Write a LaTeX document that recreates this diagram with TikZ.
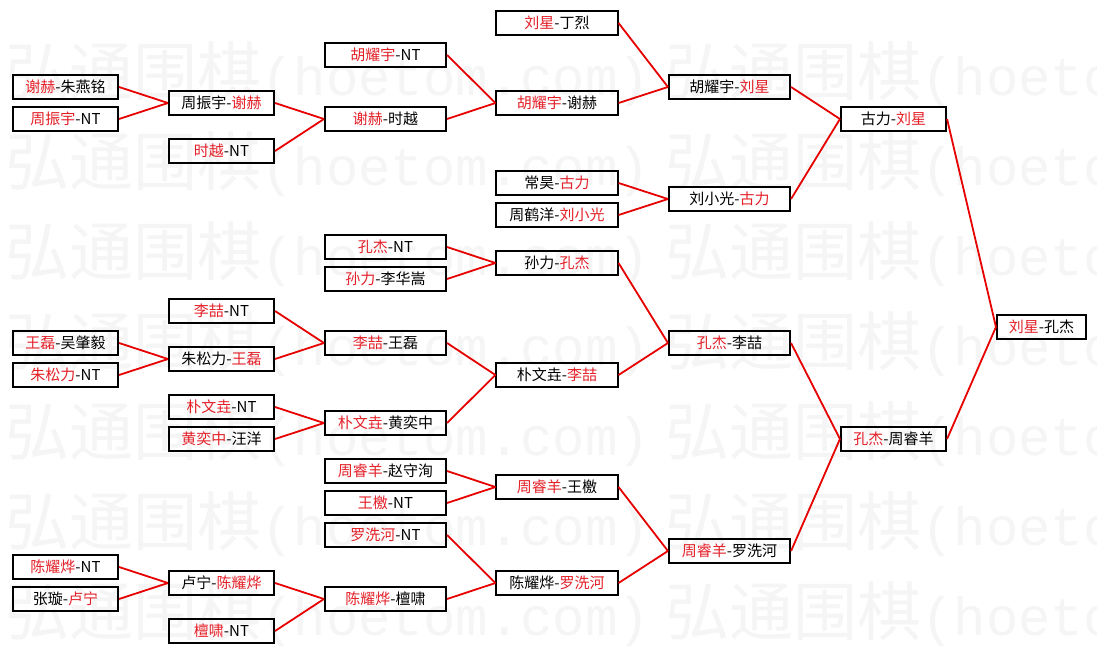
\documentclass[tikz,border=0pt]{standalone}
\usepackage{fontspec}
\setmainfont{Noto Sans CJK SC}
\newfontfamily\wmcjk{Noto Sans CJK SC}
\newfontfamily\wmlat{Liberation Mono}
\definecolor{wred}{RGB}{228,32,40}
\definecolor{lred}{RGB}{230,0,0}
\newcommand\wn[1]{\textcolor{wred}{#1}}
\begin{document}
\begin{tikzpicture}[x=1pt,y=-1pt,
  bx/.style={draw=black, line width=1.6pt, rectangle, inner sep=0pt, minimum height=24.5pt, font=\fontsize{15}{16}\selectfont, text=black},
  wa/.style={bx, minimum width=105.5pt},
  wb/.style={bx, minimum width=121.5pt},
  wc/.style={bx, minimum width=89.5pt},
  lk/.style={draw=lred, line width=1.8pt},
  wm/.style={text=black!4, anchor=base west, inner sep=0pt}]
\fill[white] (0,0) rectangle (1097,653);
\useasboundingbox (0,0) rectangle (1097,653);
\clip (0,0) rectangle (1097,653);
% watermark
\foreach \k in {0,...,6}{
  \node[wm] (wma\k) at (5,{95+90*\k}) {\fontsize{64}{64}\selectfont\wmcjk 弘通围棋\fontsize{54}{54}\selectfont\wmlat (hoetom.com)};
  \node[wm] (wmb\k) at (665,{95+90*\k}) {\fontsize{64}{64}\selectfont\wmcjk 弘通围棋\fontsize{54}{54}\selectfont\wmlat (hoetom.com)};
}
% column 0
\node[wa] (a1) at (65.5,87) {\wn{谢赫}-朱燕铭};
\node[wa] (a2) at (65.5,119) {\wn{周振宇}-NT};
\node[wa] (a3) at (65.5,343) {\wn{王磊}-吴肇毅};
\node[wa] (a4) at (65.5,375) {\wn{朱松力}-NT};
\node[wa] (a5) at (65.5,567) {\wn{陈耀烨}-NT};
\node[wa] (a6) at (65.5,599) {张璇-\wn{卢宁}};
% column 1
\node[wa] (b1) at (221.5,103) {周振宇-\wn{谢赫}};
\node[wa] (b2) at (221.5,151) {\wn{时越}-NT};
\node[wa] (b3) at (221.5,311) {\wn{李喆}-NT};
\node[wa] (b4) at (221.5,359) {朱松力-\wn{王磊}};
\node[wa] (b5) at (221.5,407) {\wn{朴文垚}-NT};
\node[wa] (b6) at (221.5,439) {\wn{黄奕中}-汪洋};
\node[wa] (b7) at (221.5,583) {卢宁-\wn{陈耀烨}};
\node[wa] (b8) at (221.5,631) {\wn{檀啸}-NT};
% column 2
\node[wb] (c1) at (385.5,55) {\wn{胡耀宇}-NT};
\node[wb] (c2) at (385.5,119) {\wn{谢赫}-时越};
\node[wb] (c3) at (385.5,247) {\wn{孔杰}-NT};
\node[wb] (c4) at (385.5,279) {\wn{孙力}-李华嵩};
\node[wb] (c5) at (385.5,343) {\wn{李喆}-王磊};
\node[wb] (c6) at (385.5,423) {\wn{朴文垚}-黄奕中};
\node[wb] (c7) at (385.5,471) {\wn{周睿羊}-赵守洵};
\node[wb] (c8) at (385.5,503) {\wn{王檄}-NT};
\node[wb] (c9) at (385.5,535) {\wn{罗洗河}-NT};
\node[wb] (c10) at (385.5,599) {\wn{陈耀烨}-檀啸};
% column 3
\node[wb] (d1) at (557,23) {\wn{刘星}-丁烈};
\node[wb] (d2) at (557,103) {\wn{胡耀宇}-谢赫};
\node[wb] (d3) at (557,183) {常昊-\wn{古力}};
\node[wb] (d4) at (557,215) {周鹤洋-\wn{刘小光}};
\node[wb] (d5) at (557,263) {孙力-\wn{孔杰}};
\node[wb] (d6) at (557,375) {朴文垚-\wn{李喆}};
\node[wb] (d7) at (557,487) {\wn{周睿羊}-王檄};
\node[wb] (d8) at (557,583) {陈耀烨-\wn{罗洗河}};
% column 4
\node[wb] (e1) at (729.5,87) {胡耀宇-\wn{刘星}};
\node[wb] (e2) at (729.5,199) {刘小光-\wn{古力}};
\node[wb] (e3) at (729.5,343) {\wn{孔杰}-李喆};
\node[wb] (e4) at (729.5,551) {\wn{周睿羊}-罗洗河};
% column 5
\node[wa] (f1) at (893.5,119) {古力-\wn{刘星}};
\node[wa] (f2) at (893.5,439) {\wn{孔杰}-周睿羊};
% column 6
\node[wc] (g1) at (1041.5,327) {\wn{刘星}-孔杰};
% connectors
\foreach \s/\t in {a1/b1,a2/b1,b1/c2,b2/c2,c1/d2,c2/d2,d1/e1,d2/e1,d3/e2,d4/e2,e1/f1,e2/f1,
  c3/d5,c4/d5,a3/b4,a4/b4,b3/c5,b4/c5,b5/c6,b6/c6,c5/d6,c6/d6,d5/e3,d6/e3,
  c7/d7,c8/d7,a5/b7,a6/b7,b7/c10,b8/c10,c9/d8,c10/d8,d7/e4,d8/e4,e3/f2,e4/f2,f1/g1,f2/g1}
  \draw[lk] (\s.east) -- (\t.west);
\end{tikzpicture}
\end{document}
